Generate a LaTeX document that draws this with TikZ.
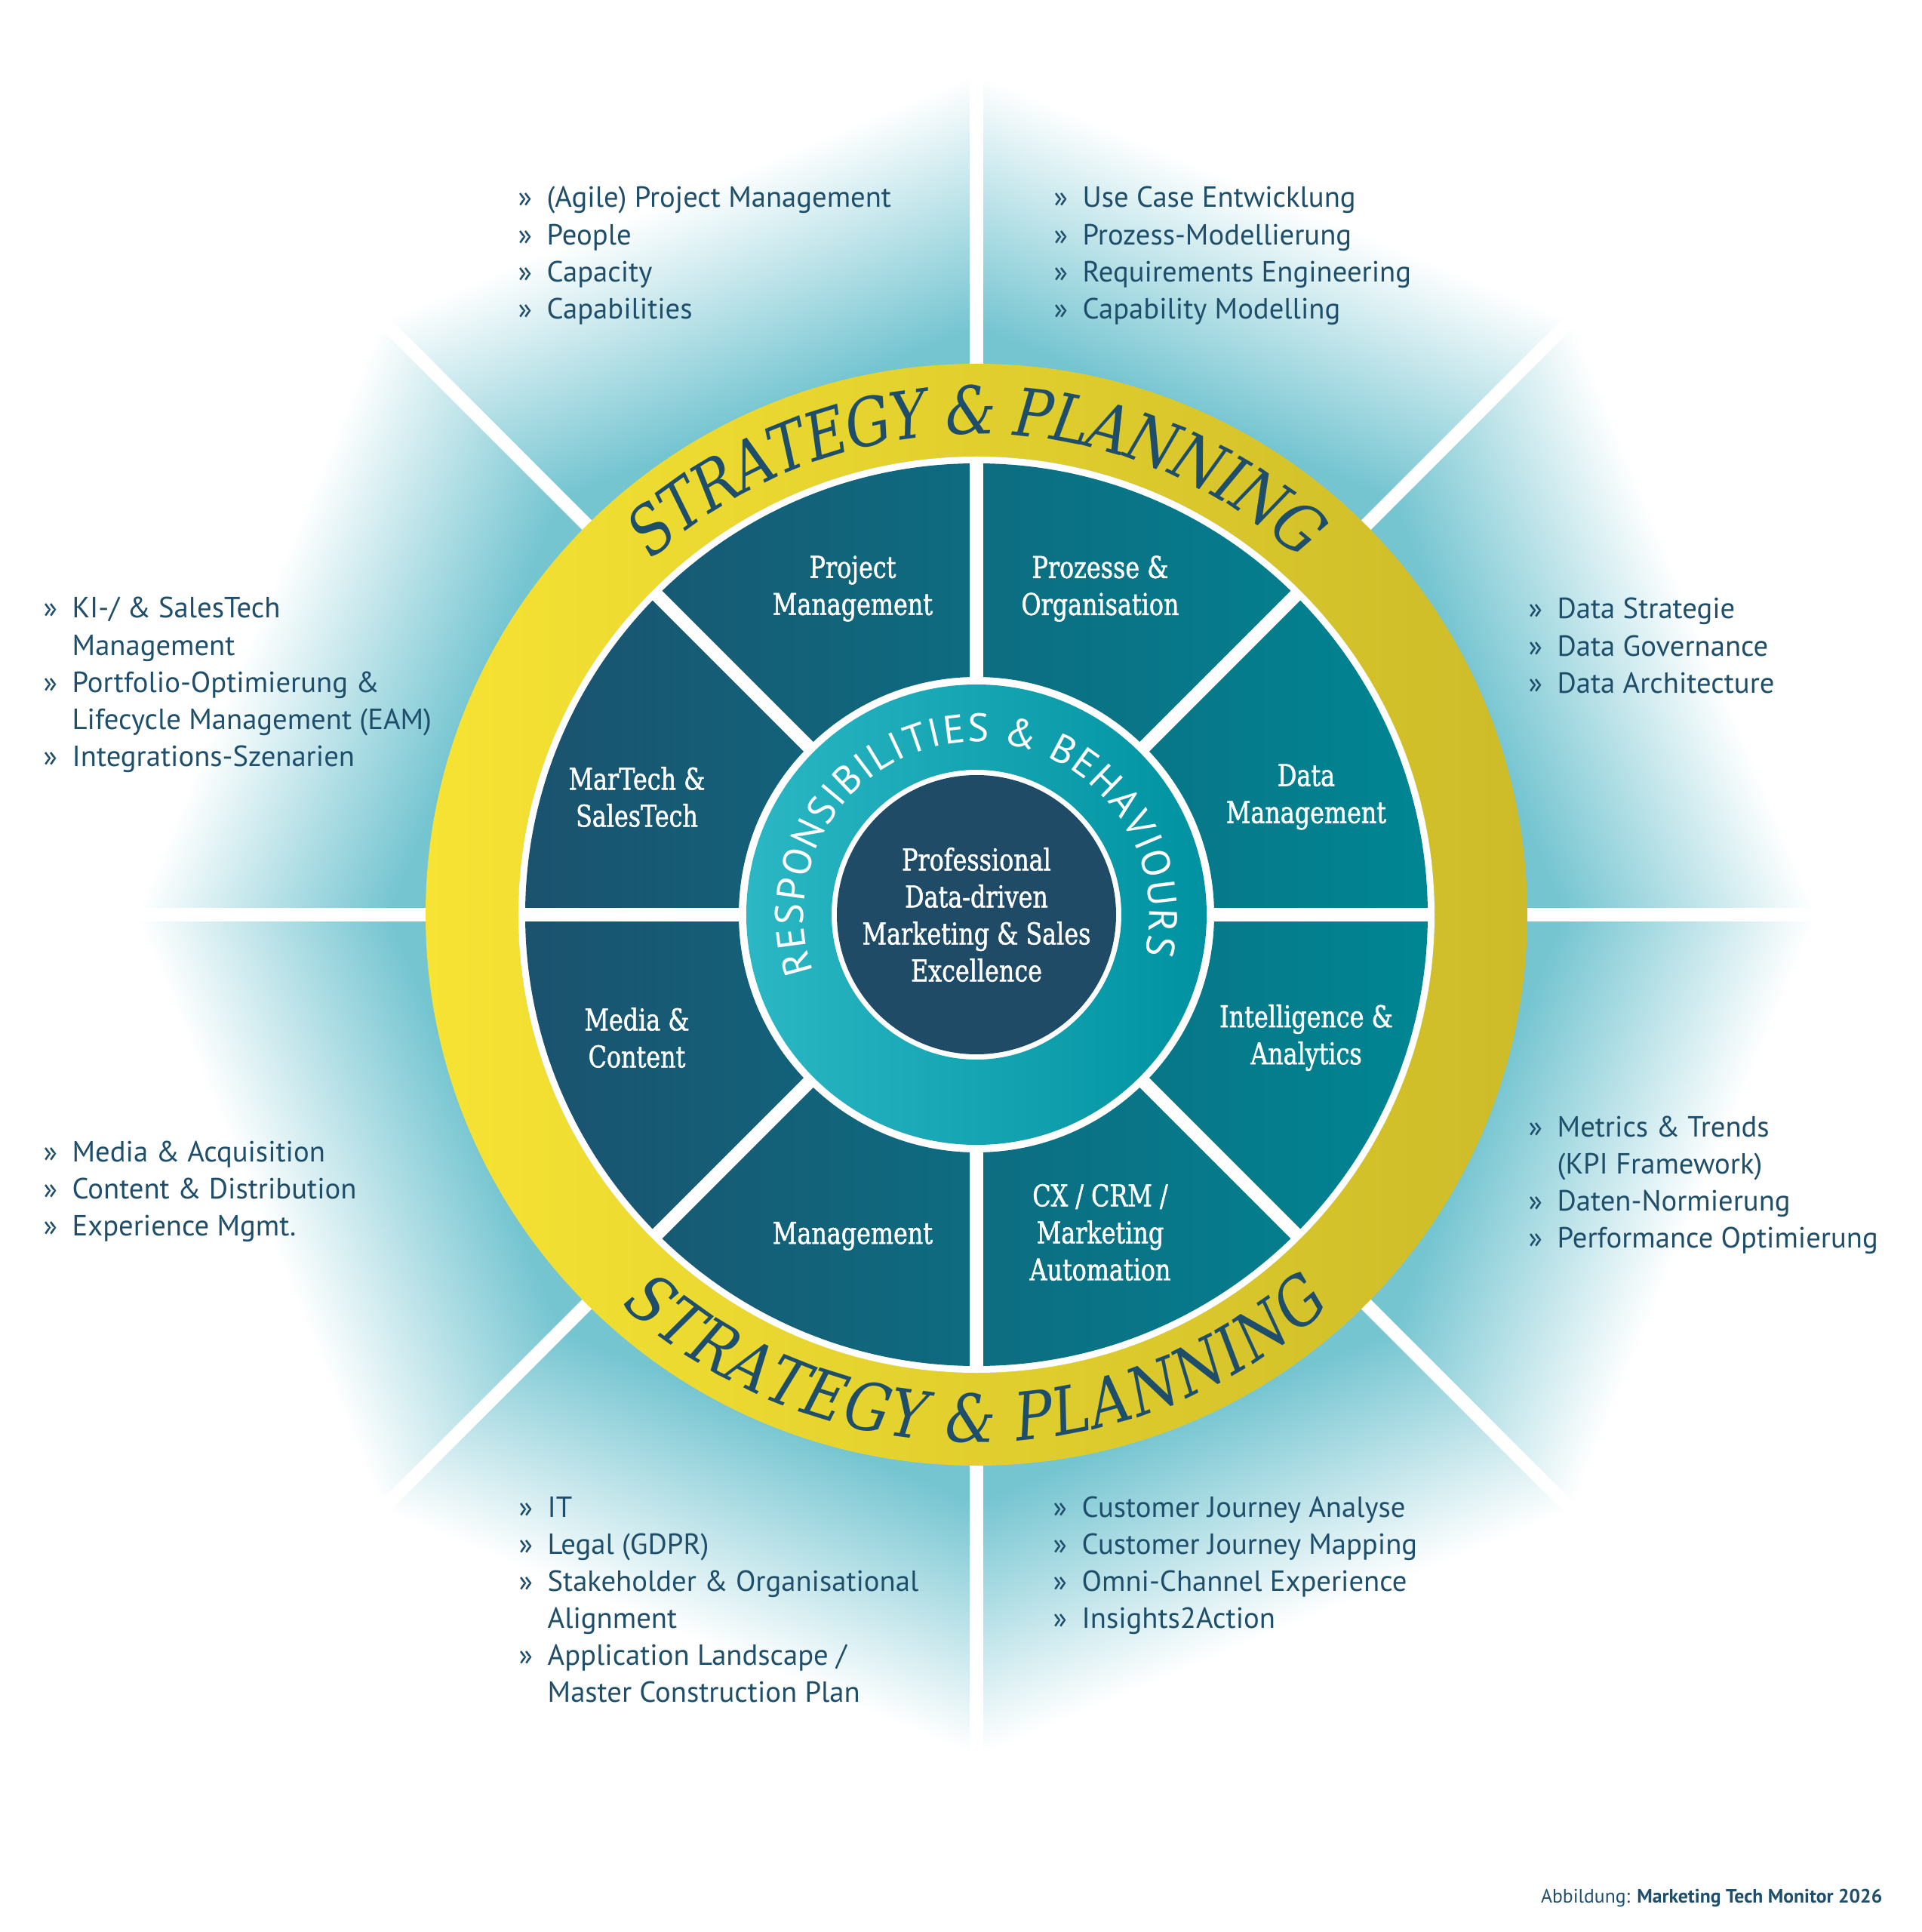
\documentclass[tikz,border=0pt]{standalone}
\usepackage{fontspec}
\setmainfont{PT Sans}
\newfontfamily\labelfont[FakeStretch=0.8, FakeBold=1.2]{DejaVu Serif}
\newfontfamily\slabfont[FakeStretch=0.86]{DejaVu Serif}
\usetikzlibrary{decorations.text}

\definecolor{navy}{RGB}{30,78,106}
\definecolor{sunL}{RGB}{246,227,51}
\definecolor{sunR}{RGB}{205,187,41}
\definecolor{segL}{RGB}{27,82,110}
\definecolor{segR}{RGB}{0,134,147}
\definecolor{ringL}{RGB}{43,183,196}
\definecolor{ringR}{RGB}{0,146,161}
\definecolor{core}{RGB}{31,75,102}

% teal glow: in each sector it fades out along the sector's middle line
\pgfdeclarefunctionalshading{glow}{\pgfpoint{-50bp}{-50bp}}{\pgfpoint{50bp}{50bp}}{}{
  45.8 mul exch 45.8 mul 0.01 add
  2 copy dup mul exch dup mul add sqrt
  3 1 roll atan
  dup 45 div floor 45 mul sub 22.5 sub cos mul
  720 sub 310 div
  dup 0 lt {pop 0} if
  dup 1 gt {pop 1} if
  dup dup 138 mul 117 add 255 div
  3 1 roll 58 mul 197 add 255 div
  exch 46 mul 209 add 255 div
}

\begin{document}
\begin{tikzpicture}[
    spoke/.style={white, line width=1.8mm},
    segtext/.style={text=white, align=center, font=\labelfont\fontsize{11.3}{13.95}\selectfont},
    list/.style={anchor=base west, inner sep=0pt, text=navy, font=\fontsize{11}{13.95}\selectfont},
]
    \useasboundingbox (-12.94,-13.48) rectangle (12.53,12.12);
    \clip (-12.94,-13.48) rectangle (12.53,12.12);

    % background and outer spokes
    \shade[shading=glow] (0,0) circle (11.45);
    \foreach \a in {0,45,...,315}
        \draw[spoke] (\a:7) -- (\a:11.45);

    % rings
    \shade[left color=sunL, right color=sunR, even odd rule] (0,0) circle (7.30) (0,0) circle (6.07);
    \fill[white] (0,0) circle (6.07);
    \shade[left color=segL, right color=segR, even odd rule] (0,0) circle (5.98) (0,0) circle (3.15);
    \foreach \a in {0,45,...,315}
        \draw[spoke] (\a:3) -- (\a:6.05);
    \shade[left color=ringL, right color=ringR, even odd rule] (0,0) circle (3.05) (0,0) circle (1.92);
    \fill[core] (0,0) circle (1.85);

    % curved titles
    \path[decorate, decoration={text along path, text align=center, raise=-0.31cm, text color=navy,
        text={|\slabfont\itshape\fontsize{25}{25}\selectfont|STRATEGY {\&} PLANNING}}]
        (150:6.68) arc[start angle=150, end angle=30, radius=6.68];
    \path[decorate, decoration={text along path, text align=center, raise=-0.31cm, text color=navy,
        text={|\slabfont\itshape\fontsize{25}{25}\selectfont|STRATEGY {\&} PLANNING}}]
        (210:6.68) arc[start angle=210, end angle=330, radius=6.68];
    \path[decorate, decoration={text along path, text align=fit to path, raise=-0.19cm, text color=white,
        text={|\fontsize{15}{15}\selectfont|RESPONSIBILITIES {\&} BEHAVIOURS}}]
        (199:2.48) arc[start angle=199, end angle=-13, radius=2.48];

    % centre and segments
    \node[segtext] (core) at (0,0) {Professional\\Data-driven\\Marketing \& Sales\\Excellence};
    \node[segtext] (project) at (-1.64,4.32) {Project\\Management};
    \node[segtext] (process) at (1.64,4.32) {Prozesse \&\\Organisation};
    \node[segtext] (martech) at (-4.50,1.56) {MarTech \&\\SalesTech};
    \node[segtext] (data) at (4.37,1.56) {Data\\Management};
    \node[segtext] (media) at (-4.50,-1.63) {Media \&\\Content};
    \node[segtext] (analytics) at (4.37,-1.63) {Intelligence \&\\Analytics};
    \node[segtext] (mgmt) at (-1.64,-4.26) {Management};
    \node[segtext] (cx) at (1.64,-4.21) {CX / CRM /\\Marketing\\Automation};

    % lists round the wheel
    \node[list] (projectList) at (-6.08,9.37) {\begin{tabular}[t]{@{}p{3.8mm}@{}l@{}}
        » & (Agile) Project Management\\ » & People\\ » & Capacity\\ » & Capabilities\end{tabular}};
    \node[list] (processList) at (1.02,9.37) {\begin{tabular}[t]{@{}p{3.8mm}@{}l@{}}
        » & Use Case Entwicklung\\ » & Prozess-Modellierung\\ » & Requirements Engineering\\ » & Capability Modelling\end{tabular}};
    \node[list] (martechList) at (-12.37,3.93) {\begin{tabular}[t]{@{}p{3.8mm}@{}l@{}}
        » & KI-/ \& SalesTech\\ & Management\\ » & Portfolio-Optimierung \&\\ & Lifecycle Management (EAM)\\ » & Integrations-Szenarien\end{tabular}};
    \node[list] (dataList) at (7.31,3.92) {\begin{tabular}[t]{@{}p{3.8mm}@{}l@{}}
        » & Data Strategie\\ » & Data Governance\\ » & Data Architecture\end{tabular}};
    \node[list] (mediaList) at (-12.37,-3.27) {\begin{tabular}[t]{@{}p{3.8mm}@{}l@{}}
        » & Media \& Acquisition\\ » & Content \& Distribution\\ » & Experience Mgmt.\end{tabular}};
    \node[list] (analyticsList) at (7.31,-2.94) {\begin{tabular}[t]{@{}p{3.8mm}@{}l@{}}
        » & Metrics \& Trends\\ & (KPI Framework)\\ » & Daten-Normierung\\ » & Performance Optimierung\end{tabular}};
    \node[list] (mgmtList) at (-6.07,-7.98) {\begin{tabular}[t]{@{}p{3.8mm}@{}l@{}}
        » & IT\\ » & Legal (GDPR)\\ » & Stakeholder \& Organisational\\ & Alignment\\ » & Application Landscape /\\ & Master Construction Plan\end{tabular}};
    \node[list] (cxList) at (1.01,-7.98) {\begin{tabular}[t]{@{}p{3.8mm}@{}l@{}}
        » & Customer Journey Analyse\\ » & Customer Journey Mapping\\ » & Omni-Channel Experience\\ » & Insights2Action\end{tabular}};

    \node[anchor=base east, inner sep=0pt, text=navy, font=\fontsize{7.3}{8}\selectfont] (credit) at (12.01,-13.09)
        {Abbildung: \textbf{Marketing Tech Monitor 2026}};
\end{tikzpicture}
\end{document}
